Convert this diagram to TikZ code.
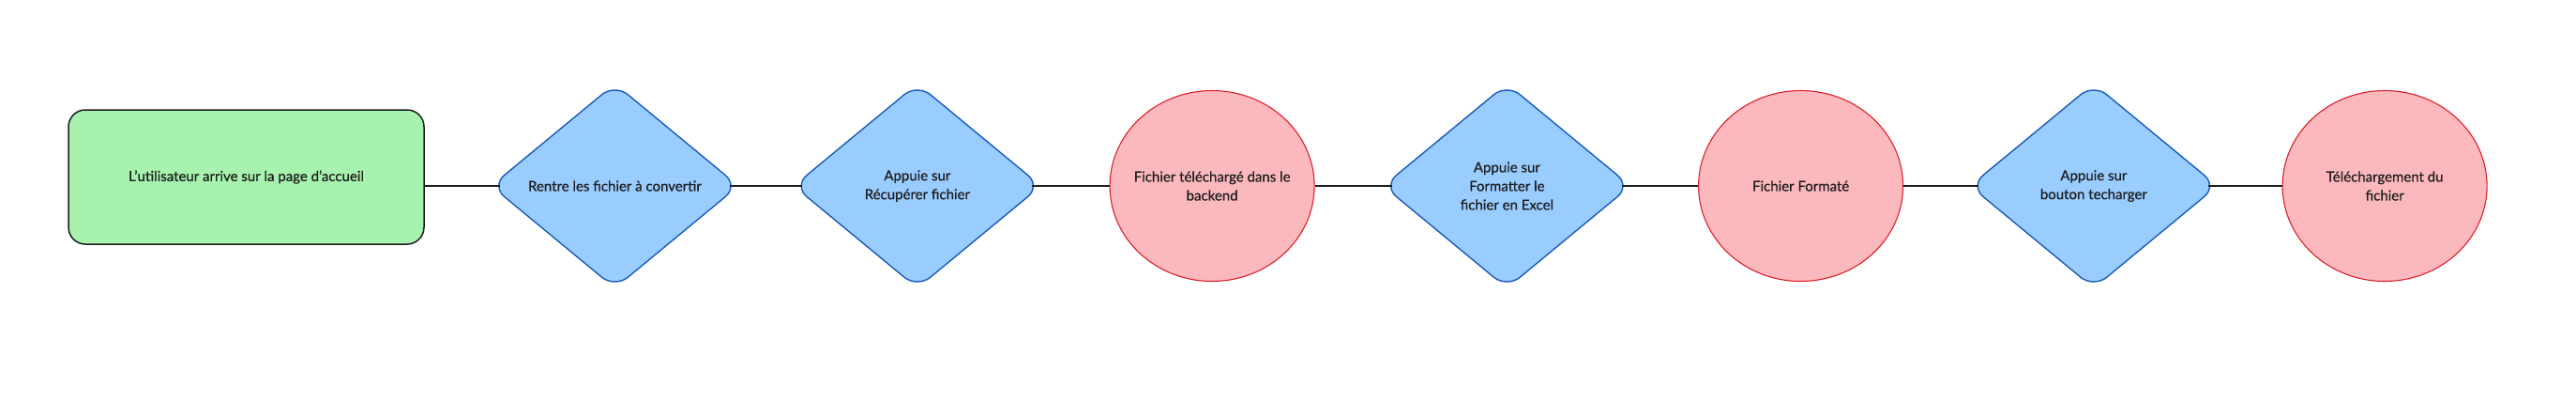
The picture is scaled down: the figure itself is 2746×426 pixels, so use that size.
\documentclass[tikz,border=0pt]{standalone}
\usepackage{fontspec}
\setmainfont{Lato}[FakeBold=0.6]
\usetikzlibrary{positioning, shapes.geometric}
\definecolor{startgreen}{HTML}{A6F2AE}
\definecolor{actionblue}{HTML}{99CCFF}
\definecolor{actionedge}{HTML}{1A5CB8}
\definecolor{statepink}{HTML}{FCB9BD}
\definecolor{stateedge}{HTML}{DB1F2B}
\definecolor{inkgray}{HTML}{1E1E1E}
\tikzstyle{start}=[draw=inkgray, fill=startgreen, line width=1.5pt, rounded corners=18pt,
		minimum width=379pt, minimum height=143pt, align=center]
\tikzstyle{action}=[diamond, draw=actionedge, fill=actionblue, line width=1.4pt,
		rounded corners=18pt, minimum width=264pt, minimum height=218pt, inner sep=-40pt, align=center]
\tikzstyle{state}=[ellipse, draw=stateedge, fill=statepink, line width=1.1pt,
		minimum width=218pt, minimum height=203pt, inner sep=-40pt, align=center]
\tikzstyle{link}=[draw=inkgray, line width=1.6pt]
\tikzstyle{tipin}=[shorten >=-10.2pt]
\tikzstyle{tipout}=[shorten <=-10.2pt]

\begin{document}
\begin{tikzpicture}[x=1pt, y=-1pt, font=\fontsize{15pt}{20pt}\selectfont, text=inkgray]
                \useasboundingbox (0,0) rectangle (2746,426);
                % parcours de l'utilisateur
                \node[start] (accueil) at (262.5,188.5) {L'utilisateur arrive sur la page d'accueil};
                \node[action, right=70pt of accueil, yshift=-9.5pt] (depot) {Rentre les fichier à convertir};
                \node[action, right=57pt of depot] (recup) {Appuie sur\\Récupérer fichier};
                \node[state, right=72pt of recup] (backend) {Fichier téléchargé dans le\\backend};
                \node[action, right=72pt of backend] (excel) {Appuie sur\\Formatter le\\fichier en Excel};
                \node[state, right=71pt of excel] (formate) {Fichier Formaté};
                \node[action, right=70pt of formate] (bouton) {Appuie sur\\bouton techarger};
                \node[state, right=68pt of bouton] (telech) {Téléchargement du\\fichier};
                % liaisons
                \draw[link, tipin] (accueil.east |- depot) -- (depot.west);
                \draw[link, tipout, tipin] (depot.east) -- (recup.west);
                \draw[link, tipout] (recup.east) -- (backend.west);
                \draw[link, tipin] (backend.east) -- (excel.west);
                \draw[link, tipout] (excel.east) -- (formate.west);
                \draw[link, tipin] (formate.east) -- (bouton.west);
                \draw[link, tipout] (bouton.east) -- (telech.west);
\end{tikzpicture}
\end{document}
